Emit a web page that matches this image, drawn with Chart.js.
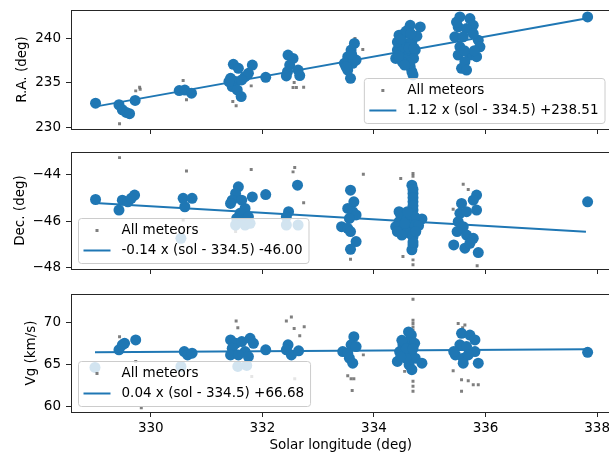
<!DOCTYPE html>
<html>
<head>
<meta charset="utf-8">
<title>Radiant drift</title>
<script src="https://cdn.jsdelivr.net/npm/chart.js@4.4.1/dist/chart.umd.min.js"></script>
<style>
  html, body { margin: 0; padding: 0; background: #fff; overflow: hidden; }
  #wrap { position: relative; width: 609px; height: 454px; overflow: hidden; }
  #wrap canvas { position: absolute; left: 0; }
</style>
</head>
<body>
<div id="wrap">
  <canvas id="raChart" width="616" height="140" style="top:0"></canvas>
  <canvas id="decChart" width="616" height="140" style="top:140px"></canvas>
  <canvas id="vgChart" width="616" height="174" style="top:280px"></canvas>
</div>
<script>
// shared x axis
const solTicks = [330, 332, 334, 336, 338];
const solMin = 328.57, solMax = 338.24;
const fitSol = [329.0, 337.8];

// --- R.A. panel ---
const raTicks = [230, 235, 240];
const raSelSol = [329.01, 329.43, 329.49, 329.56, 329.62, 329.72, 330.51, 330.61, 330.73,
  331.48, 331.57, 331.82, 331.43, 331.52, 331.46, 331.55, 331.62, 331.69, 331.75, 331.63, 331.40,
  332.06, 332.46, 332.55, 332.49, 332.45, 332.43, 332.64, 332.67,
  333.65, 333.59, 333.53, 333.47, 333.62, 333.53, 333.58, 333.68, 333.50, 333.60,
  334.83, 334.65, 334.45, 334.54, 334.60, 334.68, 334.42, 334.51, 334.65, 334.71, 334.39, 334.57,
  334.65, 334.68, 334.70, 334.63, 334.51, 334.63, 334.51, 334.74, 334.42, 334.77,
  334.48, 334.58, 334.72, 334.55, 334.44, 334.66,
  335.54, 335.72, 335.78, 335.51, 335.66, 335.45, 335.60, 335.87, 335.54, 335.90, 335.51, 335.72,
  335.84, 335.63, 335.57, 335.66, 335.48, 335.78, 335.62, 335.80, 337.83];
const raSelVal = [232.74, 232.56, 232.00, 231.70, 231.56, 233.04, 234.15, 234.20, 233.85,
  237.08, 236.63, 237.00, 235.52, 235.15, 234.59, 234.22, 233.48, 235.70, 236.07, 235.33, 235.15,
  235.63, 238.11, 237.74, 237.00, 236.26, 235.78, 236.44, 235.82,
  239.41, 238.67, 237.93, 237.19, 237.19, 236.44, 235.52, 237.56, 236.80, 238.20,
  241.26, 241.44, 240.33, 240.52, 239.41, 239.59, 238.67, 238.30, 238.30, 237.74, 237.74, 237.56,
  236.81, 236.26, 235.89, 237.19, 239.04, 238.90, 237.33, 238.67, 239.56, 240.22,
  239.90, 240.80, 238.90, 237.00, 238.00, 240.50,
  242.37, 242.19, 241.44, 241.26, 241.07, 240.15, 240.15, 239.78, 239.04, 239.04, 238.11, 238.11,
  237.93, 237.37, 236.63, 236.44, 241.80, 240.50, 238.60, 238.60, 242.37];
const raAllSol = [329.44, 329.73, 329.80, 329.81, 330.58, 330.64, 331.47, 331.53, 331.80,
  332.57, 332.55, 332.61, 332.74, 333.66, 333.80, 334.52, 335.53];
const raAllVal = [230.44, 234.11, 234.52, 234.30, 235.26, 233.11, 232.93, 232.44, 234.67,
  235.04, 234.48, 234.48, 234.52, 239.96, 238.74, 236.74, 242.56];
const raFit = [232.35, 242.21];
const raLegend = ['All meteors', '1.12 x (sol - 334.5) +238.51'];

// --- Dec. panel ---
const decTicks = [-48, -46, -44];
const decSelSol = [329.01, 329.43, 329.49, 329.59, 329.71, 329.65, 330.58, 330.74, 330.61,
  331.57, 331.52, 331.46, 331.43, 331.63, 331.82, 331.69, 331.60, 331.54, 331.66, 331.75,
  331.52, 331.69, 331.78, 332.06, 332.63, 332.47, 332.43, 332.43, 332.64, 330.54,
  333.58, 333.64, 333.53, 333.62, 333.68, 333.56, 333.42, 333.53, 333.58, 333.68, 333.58,
  334.68, 334.70, 334.70, 334.70, 334.70, 334.70, 334.68, 334.70, 334.70, 334.70, 334.70,
  334.45, 334.39, 334.54, 334.60, 334.51, 334.63, 334.65, 334.63, 334.86, 334.48, 334.73, 334.73,
  334.58, 334.55, 334.45, 334.80, 334.42, 334.50, 334.60, 334.75,
  335.84, 335.78, 335.57, 335.84, 335.54, 335.66, 335.51, 335.60, 335.49, 335.66, 335.78,
  335.43, 335.63, 335.87, 335.72, 337.83];
const decSelVal = [-45.08, -45.53, -45.11, -45.18, -44.89, -45.03, -45.03, -45.03, -45.39,
  -44.54, -44.82, -45.11, -45.25, -45.11, -44.97, -45.46, -45.67, -45.89, -45.96, -45.82,
  -46.17, -46.17, -46.10, -44.87, -44.47, -45.60, -45.82, -46.17, -46.17, -46.74,
  -44.68, -45.18, -45.46, -45.60, -45.74, -45.89, -46.24, -46.31, -46.45, -46.88, -47.21,
  -44.47, -44.82, -45.18, -45.53, -46.67, -47.02, -47.23, -44.65, -45.00, -45.35, -46.90,
  -46.03, -46.24, -45.82, -46.24, -46.38, -46.03, -45.74, -46.52, -45.91, -45.74, -45.82, -46.17,
  -45.95, -46.10, -45.60, -46.20, -46.45, -46.60, -45.60, -46.45,
  -44.89, -45.11, -45.25, -45.53, -45.67, -45.60, -46.03, -46.24, -46.45, -46.60, -46.74,
  -47.02, -47.16, -47.35, -46.95, -45.18];
const decAllSol = [329.44, 330.64, 331.80, 332.55, 332.58, 332.74, 330.58, 331.52, 333.81,
  334.48, 334.70, 334.70, 333.58, 334.52, 334.70, 334.70, 335.60, 335.69, 335.42, 335.85];
const decAllVal = [-43.29, -43.86, -43.80, -43.90, -43.71, -45.22, -45.96, -46.45, -44.00,
  -44.18, -43.97, -44.09, -47.63, -47.52, -47.66, -47.87, -44.43, -44.65, -45.50, -47.91];
const decFit = [-45.23, -46.46];
const decLegend = ['All meteors', '-0.14 x (sol - 334.5) -46.00'];

// --- Vg panel ---
const vgTicks = [60, 65, 70];
const vgSelSol = [329.43, 329.49, 329.53, 329.73, 330.60, 330.66, 330.74,
  331.43, 331.52, 331.46, 331.43, 331.63, 331.78, 331.84, 331.69, 331.75, 331.57,
  332.06, 332.46, 332.43, 332.52, 332.65, 329.00, 330.54, 331.56, 331.72,
  333.64, 333.59, 333.44, 333.68, 333.56, 333.62, 333.53,
  334.67, 334.61, 334.52, 334.73, 334.67, 334.55, 334.46, 334.74, 334.42, 334.63, 334.86,
  334.68, 334.57, 334.50, 334.62, 334.58, 334.70, 334.48,
  335.57, 335.72, 335.81, 335.54, 335.66, 335.81, 335.46, 335.60, 335.69, 335.60, 335.87,
  335.43, 337.83];
const vgSelVal = [66.75, 67.35, 67.54, 67.94, 66.55, 66.15, 66.35,
  67.94, 67.54, 66.94, 66.15, 67.74, 68.13, 67.54, 66.55, 65.95, 66.15,
  66.75, 67.35, 66.75, 66.15, 66.63, 64.64, 64.76, 64.76, 64.88,
  68.33, 67.35, 66.55, 67.14, 65.75, 65.15, 66.35,
  68.53, 67.74, 67.35, 67.54, 66.55, 66.35, 66.55, 65.75, 65.36, 64.96, 65.15,
  64.37, 65.75, 67.90, 68.90, 66.90, 66.90, 65.90,
  68.73, 68.53, 67.94, 67.35, 67.14, 66.55, 66.15, 65.75, 66.15, 65.15, 65.15,
  66.55, 66.46];
const vgAllSol = [329.44, 329.73, 329.83, 331.53, 331.56, 332.43, 332.52, 332.57, 332.75,
  332.67, 331.81, 332.58, 333.53, 333.59, 333.64, 333.61, 333.81,
  334.70, 334.70, 334.70, 334.70, 334.70, 334.70, 334.70, 334.70, 334.70, 334.55,
  335.51, 335.59, 335.63, 335.42, 335.57, 335.69, 335.78, 335.87, 335.57];
const vgAllVal = [68.33, 65.36, 59.80, 70.20, 69.40, 70.20, 70.70, 69.32, 69.52,
  68.45, 63.57, 63.30, 63.65, 63.30, 63.30, 61.87, 66.15,
  72.82, 70.30, 69.90, 69.50, 69.10, 68.80, 62.98, 62.38, 61.79, 64.17,
  69.92, 69.40, 69.72, 64.25, 63.18, 63.06, 62.58, 62.58, 61.79];
const vgFit = [66.46, 66.81];
const vgLegend = ['All meteors', '0.04 x (sol - 334.5) +66.68'];

const BLUE = '#1f77b4';
const GRAY = 'rgba(105, 105, 105, 0.85)';
const AXIS = '#262626';
const FONT = "'DejaVu Sans', sans-serif";

Chart.defaults.font = { family: FONT, size: 13.5, lineHeight: 1.2 };
Chart.defaults.color = '#000';

function toPoints(xs, ys) {
  return xs.map((x, i) => ({ x: x, y: ys[i] }));
}

// matplotlib style tick text uses a real minus sign
function fmtTick(v) {
  return String(v).replace('-', '\u2212');
}

/**
 * Draws the full axes frame plus a matplotlib-like legend box
 * (semi transparent, so points behind it show through faded)
 */
const legendBox = {
  id: 'legendBox',
  afterDraw(chart, args, opts) {
    const ctx = chart.ctx;
    const a = chart.chartArea;
    ctx.save();

    ctx.strokeStyle = AXIS;
    ctx.lineWidth = 1;
    ctx.strokeRect(a.left + 0.5, a.top + 0.5, a.right - a.left, a.bottom - a.top);

    ctx.font = '13.5px ' + FONT;
    const textW = Math.max(...opts.labels.map(t => ctx.measureText(t).width));
    const w = 43.5 + textW + 6;
    const h = 45;
    const x = opts.align === 'right' ? a.right - 6 - w : a.left + 7;
    const y = a.bottom - 6 - h;

    ctx.beginPath();
    if (ctx.roundRect) ctx.roundRect(x + 0.5, y + 0.5, w, h, 3);
    else ctx.rect(x + 0.5, y + 0.5, w, h);
    ctx.fillStyle = 'rgba(255, 255, 255, 0.8)';
    ctx.fill();
    ctx.strokeStyle = '#cccccc';
    ctx.stroke();

    const row1 = y + 12.5, row2 = y + 32.5;
    ctx.fillStyle = GRAY;
    ctx.fillRect(x + 17.5, row1 - 1.5, 3, 3);

    ctx.strokeStyle = BLUE;
    ctx.lineWidth = 2;
    ctx.beginPath();
    ctx.moveTo(x + 5.5, row2);
    ctx.lineTo(x + 32.5, row2);
    ctx.stroke();

    ctx.fillStyle = '#000';
    ctx.textBaseline = 'middle';
    ctx.fillText(opts.labels[0], x + 43.5, row1);
    ctx.fillText(opts.labels[1], x + 43.5, row2);
    ctx.restore();
  }
};

function makePanel(id, p) {
  return new Chart(document.getElementById(id), {
    type: 'scatter',
    data: {
      datasets: [{
        label: 'Selected',
        data: toPoints(p.selSol, p.selVal),
        backgroundColor: BLUE,
        borderWidth: 0,
        pointRadius: 5.5,
        order: 0
      }, {
        type: 'line',
        label: p.legend[1],
        data: toPoints(fitSol, p.fit),
        borderColor: BLUE,
        borderWidth: 2,
        pointRadius: 0,
        fill: false,
        order: 1
      }, {
        label: 'All meteors',
        data: toPoints(p.allSol, p.allVal),
        pointStyle: 'rect',
        pointRadius: 2.1,
        backgroundColor: GRAY,
        borderWidth: 0,
        order: 2
      }]
    },
    options: {
      responsive: false,
      animation: false,
      events: [],
      layout: { padding: { top: p.padTop, left: 0, right: 1, bottom: 0 } },
      plugins: {
        legend: { display: false },
        tooltip: { enabled: false },
        legendBox: { labels: p.legend, align: p.legendAlign }
      },
      scales: {
        x: {
          type: 'linear',
          min: solMin,
          max: solMax,
          afterBuildTicks: s => { s.ticks = solTicks.map(v => ({ value: v })); },
          afterFit: s => { s.height = p.xHeight; s.paddingLeft = 0; s.paddingRight = 0; },
          grid: { drawOnChartArea: false, drawTicks: true, tickLength: 5, color: AXIS },
          border: { color: AXIS, width: 1 },
          ticks: { display: p.showX, padding: 3, maxRotation: 0, autoSkip: false },
          title: { display: p.showX, text: 'Solar longitude (deg)', padding: { top: 0, bottom: 0 } }
        },
        y: {
          type: 'linear',
          min: p.yMin,
          max: p.yMax,
          afterBuildTicks: s => { s.ticks = p.ticks.map(v => ({ value: v })); },
          afterFit: s => { s.width = 71; s.paddingTop = 0; s.paddingBottom = 0; },
          grid: { drawOnChartArea: false, drawTicks: true, tickLength: 5, color: AXIS },
          border: { color: AXIS, width: 1 },
          ticks: { padding: 5, callback: v => fmtTick(v) },
          title: { display: true, text: p.yTitle, padding: { top: p.titlePad, bottom: 0 } }
        }
      }
    },
    plugins: [legendBox]
  });
}

makePanel('raChart', {
  selSol: raSelSol, selVal: raSelVal, allSol: raAllSol, allVal: raAllVal,
  fit: raFit, legend: raLegend, legendAlign: 'right', ticks: raTicks,
  yMin: 229.85, yMax: 243.15, yTitle: 'R.A. (deg)', titlePad: 14,
  padTop: 10, xHeight: 11, showX: false
});

makePanel('decChart', {
  selSol: decSelSol, selVal: decSelVal, allSol: decAllSol, allVal: decAllVal,
  fit: decFit, legend: decLegend, legendAlign: 'left', ticks: decTicks,
  yMin: -48.05, yMax: -43.05, yTitle: 'Dec. (deg)', titlePad: 12,
  padTop: 12, xHeight: 11, showX: false
});

makePanel('vgChart', {
  selSol: vgSelSol, selVal: vgSelVal, allSol: vgAllSol, allVal: vgAllVal,
  fit: vgFit, legend: vgLegend, legendAlign: 'left', ticks: vgTicks,
  yMin: 59.3, yMax: 73.45, yTitle: 'Vg (km/s)', titlePad: 23,
  padTop: 14, xHeight: 42, showX: true
});
</script>
</body>
</html>
